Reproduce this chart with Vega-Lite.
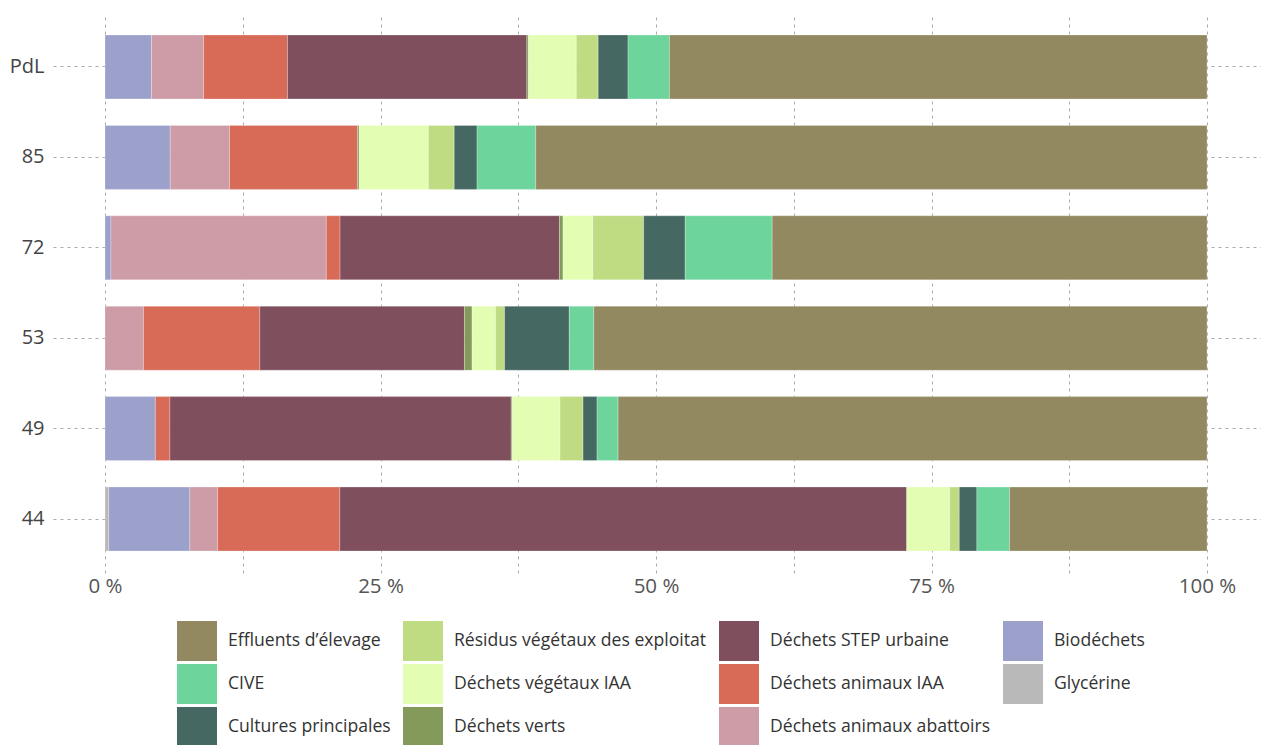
{
  "$schema": "https://vega.github.io/schema/vega-lite/v6.json",
  "autosize": {"type": "none"},
  "padding": {"left": 105, "top": 13, "right": 0, "bottom": 172},
  "width": 1156,
  "height": 560,
  "background": "white",
  "config": {
    "view": {"stroke": null},
    "font": "Open Sans"
  },
  "data": {
    "values": [
      {"dep": "PdL", "cat": "Biodéchets", "ord": 2, "pct": 4.22},
      {"dep": "PdL", "cat": "Déchets animaux abattoirs", "ord": 3, "pct": 4.73},
      {"dep": "PdL", "cat": "Déchets animaux IAA", "ord": 4, "pct": 7.61},
      {"dep": "PdL", "cat": "Déchets STEP urbaine", "ord": 5, "pct": 21.72},
      {"dep": "PdL", "cat": "Déchets verts", "ord": 6, "pct": 0.15},
      {"dep": "PdL", "cat": "Déchets végétaux IAA", "ord": 7, "pct": 4.34},
      {"dep": "PdL", "cat": "Résidus végétaux des exploitat", "ord": 8, "pct": 1.98},
      {"dep": "PdL", "cat": "Cultures principales", "ord": 9, "pct": 2.71},
      {"dep": "PdL", "cat": "CIVE", "ord": 10, "pct": 3.76},
      {"dep": "PdL", "cat": "Effluents d’élevage", "ord": 11, "pct": 48.78},

      {"dep": "85", "cat": "Biodéchets", "ord": 2, "pct": 5.92},
      {"dep": "85", "cat": "Déchets animaux abattoirs", "ord": 3, "pct": 5.38},
      {"dep": "85", "cat": "Déchets animaux IAA", "ord": 4, "pct": 11.61},
      {"dep": "85", "cat": "Déchets verts", "ord": 6, "pct": 0.16},
      {"dep": "85", "cat": "Déchets végétaux IAA", "ord": 7, "pct": 6.28},
      {"dep": "85", "cat": "Résidus végétaux des exploitat", "ord": 8, "pct": 2.34},
      {"dep": "85", "cat": "Cultures principales", "ord": 9, "pct": 2.07},
      {"dep": "85", "cat": "CIVE", "ord": 10, "pct": 5.33},
      {"dep": "85", "cat": "Effluents d’élevage", "ord": 11, "pct": 60.91},

      {"dep": "72", "cat": "Biodéchets", "ord": 2, "pct": 0.54},
      {"dep": "72", "cat": "Déchets animaux abattoirs", "ord": 3, "pct": 19.54},
      {"dep": "72", "cat": "Déchets animaux IAA", "ord": 4, "pct": 1.25},
      {"dep": "72", "cat": "Déchets STEP urbaine", "ord": 5, "pct": 19.91},
      {"dep": "72", "cat": "Déchets verts", "ord": 6, "pct": 0.32},
      {"dep": "72", "cat": "Déchets végétaux IAA", "ord": 7, "pct": 2.71},
      {"dep": "72", "cat": "Résidus végétaux des exploitat", "ord": 8, "pct": 4.61},
      {"dep": "72", "cat": "Cultures principales", "ord": 9, "pct": 3.77},
      {"dep": "72", "cat": "CIVE", "ord": 10, "pct": 7.89},
      {"dep": "72", "cat": "Effluents d’élevage", "ord": 11, "pct": 39.46},

      {"dep": "53", "cat": "Déchets animaux abattoirs", "ord": 3, "pct": 3.49},
      {"dep": "53", "cat": "Déchets animaux IAA", "ord": 4, "pct": 10.56},
      {"dep": "53", "cat": "Déchets STEP urbaine", "ord": 5, "pct": 18.57},
      {"dep": "53", "cat": "Déchets verts", "ord": 6, "pct": 0.69},
      {"dep": "53", "cat": "Déchets végétaux IAA", "ord": 7, "pct": 2.14},
      {"dep": "53", "cat": "Résidus végétaux des exploitat", "ord": 8, "pct": 0.81},
      {"dep": "53", "cat": "Cultures principales", "ord": 9, "pct": 5.87},
      {"dep": "53", "cat": "CIVE", "ord": 10, "pct": 2.23},
      {"dep": "53", "cat": "Effluents d’élevage", "ord": 11, "pct": 55.64},

      {"dep": "49", "cat": "Biodéchets", "ord": 2, "pct": 4.57},
      {"dep": "49", "cat": "Déchets animaux IAA", "ord": 4, "pct": 1.32},
      {"dep": "49", "cat": "Déchets STEP urbaine", "ord": 5, "pct": 30.97},
      {"dep": "49", "cat": "Déchets verts", "ord": 6, "pct": 0.1},
      {"dep": "49", "cat": "Déchets végétaux IAA", "ord": 7, "pct": 4.33},
      {"dep": "49", "cat": "Résidus végétaux des exploitat", "ord": 8, "pct": 2.09},
      {"dep": "49", "cat": "Cultures principales", "ord": 9, "pct": 1.27},
      {"dep": "49", "cat": "CIVE", "ord": 10, "pct": 1.91},
      {"dep": "49", "cat": "Effluents d’élevage", "ord": 11, "pct": 53.44},

      {"dep": "44", "cat": "Glycérine", "ord": 1, "pct": 0.34},
      {"dep": "44", "cat": "Biodéchets", "ord": 2, "pct": 7.36},
      {"dep": "44", "cat": "Déchets animaux abattoirs", "ord": 3, "pct": 2.52},
      {"dep": "44", "cat": "Déchets animaux IAA", "ord": 4, "pct": 11.09},
      {"dep": "44", "cat": "Déchets STEP urbaine", "ord": 5, "pct": 51.44},
      {"dep": "44", "cat": "Déchets végétaux IAA", "ord": 7, "pct": 3.9},
      {"dep": "44", "cat": "Résidus végétaux des exploitat", "ord": 8, "pct": 0.87},
      {"dep": "44", "cat": "Cultures principales", "ord": 9, "pct": 1.6},
      {"dep": "44", "cat": "CIVE", "ord": 10, "pct": 2.96},
      {"dep": "44", "cat": "Effluents d’élevage", "ord": 11, "pct": 17.92}
    ]
  },
  "mark": {"type": "bar", "stroke": "white", "strokeWidth": 0.5, "strokeOpacity": 0.5},
  "encoding": {
    "y": {
      "field": "dep",
      "type": "nominal",
      "sort": ["PdL", "85", "72", "53", "49", "44"],
      "scale": {"paddingInner": 0.292, "paddingOuter": 0.243},
      "axis": {
        "title": null,
        "domain": false,
        "grid": true,
        "gridDash": [3, 4],
        "gridColor": "#aaaaaa",
        "gridWidth": 1,
        "tickDash": [3, 4],
        "tickColor": "#aaaaaa",
        "tickSize": 55,
        "labelPadding": 6,
        "labelFontSize": 20,
        "labelColor": "#444444",
        "labelFont": "Open Sans"
      }
    },
    "x": {
      "field": "pct",
      "type": "quantitative",
      "stack": "zero",
      "scale": {"domain": [0, 104.9], "nice": false, "zero": true},
      "axis": {
        "title": null,
        "domain": false,
        "ticks": false,
        "values": [0, 12.5, 25, 37.5, 50, 62.5, 75, 87.5, 100],
        "labelExpr": "datum.value % 25 == 0 ? datum.value + ' %' : ''",
        "grid": true,
        "gridDash": [3, 4],
        "gridColor": "#aaaaaa",
        "gridWidth": 1,
        "labelPadding": 3,
        "labelFontSize": 20.5,
        "labelColor": "#555555",
        "labelFont": "Open Sans",
        "labelOverlap": false,
        "labelFlush": false
      }
    },
    "color": {
      "field": "cat",
      "type": "nominal",
      "scale": {
        "domain": [
          "Effluents d’élevage", "Résidus végétaux des exploitat", "Déchets STEP urbaine", "Biodéchets",
          "CIVE", "Déchets végétaux IAA", "Déchets animaux IAA", "Glycérine",
          "Cultures principales", "Déchets verts", "Déchets animaux abattoirs"
        ],
        "range": [
          "#938960", "#bfdc83", "#7f4f5d", "#9ca1cc",
          "#6dd59c", "#e3feb3", "#d86b57", "#b9b9b9",
          "#456862", "#849a5a", "#cd9ca7"
        ]
      },
      "legend": {
        "title": null,
        "orient": "none",
        "legendX": 72,
        "legendY": 608,
        "direction": "horizontal",
        "columns": 4,
        "symbolType": "square",
        "symbolSize": 1600,
        "symbolStrokeWidth": 0,
        "symbolOpacity": 1,
        "labelFontSize": 17.6,
        "labelFont": "Open Sans",
        "labelColor": "#333333",
        "labelOffset": 11,
        "labelLimit": 400,
        "rowPadding": 3,
        "columnPadding": 12,
        "padding": 0
      }
    },
    "order": {"field": "ord", "type": "quantitative"}
  }
}
